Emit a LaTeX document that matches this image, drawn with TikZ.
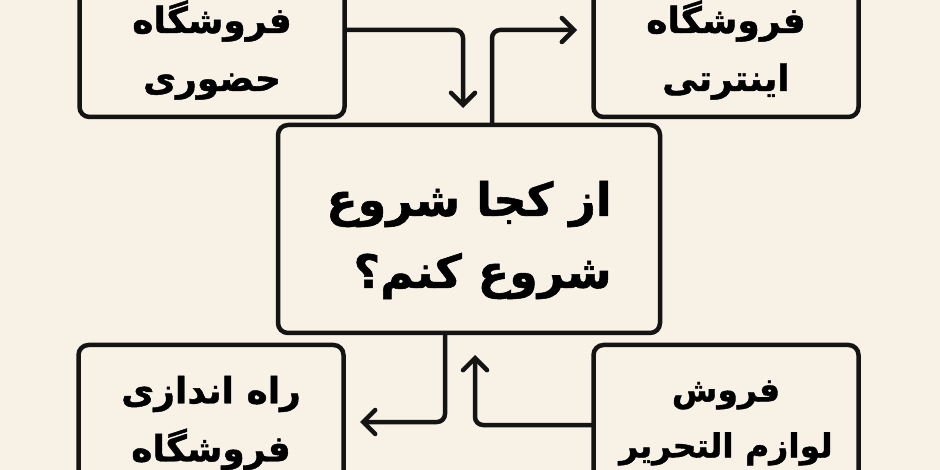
\documentclass[tikz,border=0pt]{standalone}
\usepackage{fontspec}
\usetikzlibrary{arrows.meta}
\TeXXeTstate=1
\newfontfamily\arabicfont[Script=Arabic, BoldFeatures={FakeBold=1.2}]{DejaVu Sans}
\definecolor{paper}{HTML}{F7F1E6}
\definecolor{ink}{HTML}{141414}

\begin{document}
\begin{tikzpicture}[
	x = 1pt, y = -1pt,
	box/.style = {draw = ink, line width = 4.5pt, rounded corners = 10pt, minimum width = 265pt, inner sep = 0pt, align = center, font = \arabicfont\bfseries\fontsize{36}{58}\selectfont},
	hub/.style = {draw = ink, line width = 4.5pt, rounded corners = 10pt, minimum width = 382pt, minimum height = 208pt},
	ask/.style = {inner sep = 0pt, align = right, font = \arabicfont\bfseries\fontsize{46}{72}\selectfont},
	link/.style = {draw = ink, line width = 4.5pt, rounded corners = 8pt, line cap = round, -{Straight Barb[length = 12pt, width = 24pt, line cap = round]}}
	]
	\fill[paper] (0,0) rectangle (940,470);
	\useasboundingbox (0,0) rectangle (940,470);
	\clip (0,0) rectangle (940,470);

	\node[hub] (start) at (469,229) {};
	\node[ask] (question) at (469,240) {\beginR از کجا شروع\endR\\\beginR شروع کنم؟\endR};
	\node[box, minimum height = 134pt] (shop) at (212,50) {\beginR فروشگاه\endR\\\beginR حضوری\endR};
	\node[box, minimum height = 134pt] (web) at (726,50) {\beginR فروشگاه\endR\\\beginR اینترتی\endR};
	\node[box, minimum height = 156pt] (launch) at (211,423) {\beginR راه اندازی\endR\\\beginR فروشگاه\endR};
	\node[box, minimum height = 156pt, font = \arabicfont\bfseries\fontsize{33}{56}\selectfont] (sell) at (726,423) {\beginR فروش\endR\\\beginR لوازم التحریر\endR};

	% arrow ends stop short of the boxes
	\coordinate (k1) at (463,108);
	\coordinate (k2) at (577,30);
	\coordinate (k3) at (360,422);
	\coordinate (k4) at (475,355);

	\draw[link] (shop.east |- 0,30) -| (k1);
	\draw[link] (start.north -| 492,0) |- (k2);
	\draw[link] (start.south -| 445,0) |- (k3);
	\draw[link] (sell.west |- 0,425) -| (k4);
\end{tikzpicture}
\end{document}
